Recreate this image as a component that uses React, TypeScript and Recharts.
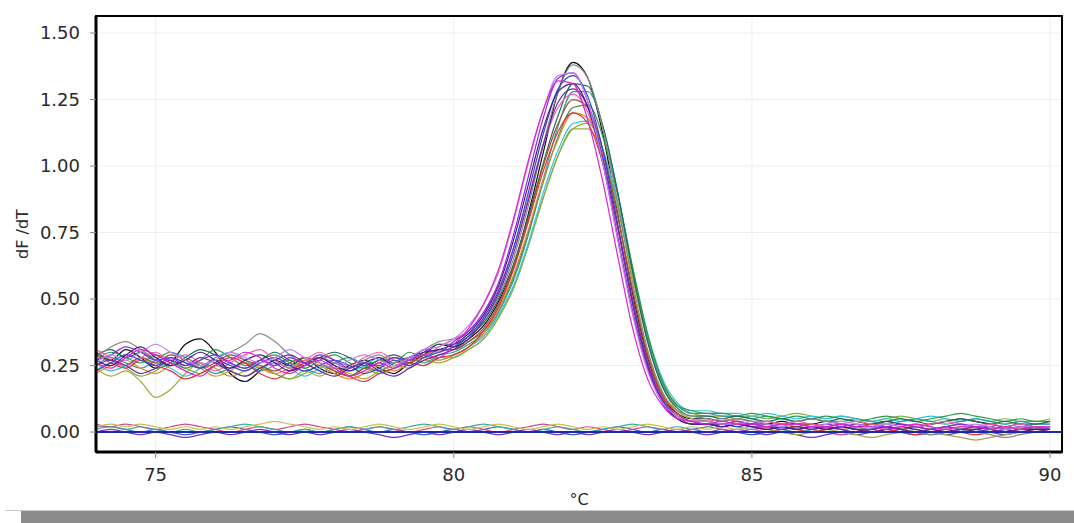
import { LineChart, Line, XAxis, YAxis, CartesianGrid, ReferenceLine, ReferenceArea } from 'recharts';

// temperature grid, 0.25 °C steps
const temps = [
    74, 74.25, 74.5, 74.75, 75, 75.25, 75.5, 75.75, 76, 76.25, 76.5, 76.75, 77, 77.25, 77.5, 77.75,
    78, 78.25, 78.5, 78.75, 79, 79.25, 79.5, 79.75, 80, 80.25, 80.5, 80.75, 81, 81.25, 81.5, 81.75,
    82, 82.25, 82.5, 82.75, 83, 83.25, 83.5, 83.75, 84, 84.25, 84.5, 84.75, 85, 85.25, 85.5, 85.75,
    86, 86.25, 86.5, 86.75, 87, 87.25, 87.5, 87.75, 88, 88.25, 88.5, 88.75, 89, 89.25, 89.5, 89.75, 90,
];

const xTicks = [75, 80, 85, 90];
const yTicks = [0, 0.25, 0.5, 0.75, 1, 1.25, 1.5];

// positive wells (melt peak ~82 °C)
const p1 = [
    0.30, 0.27, 0.31, 0.28, 0.24, 0.26, 0.33, 0.35, 0.30, 0.22, 0.19, 0.23, 0.27, 0.25, 0.28, 0.24, 0.22, 0.25, 0.27, 0.24, 0.22, 0.26, 0.29, 0.33,
    0.32, 0.35, 0.40, 0.49, 0.62, 0.82, 1.05, 1.28, 1.39, 1.33, 1.12, 0.82, 0.52, 0.28, 0.13, 0.07, 0.05,
    0.05, 0.04, 0.05, 0.04, 0.03, 0.04, 0.03, 0.03, 0.04, 0.03, 0.02, 0.03, 0.04, 0.03, 0.02, 0.03, 0.04, 0.05, 0.04, 0.03, 0.02, 0.03, 0.02, 0.02,
];
const p2 = [
    0.27, 0.29, 0.32, 0.30, 0.27, 0.28, 0.25, 0.27, 0.29, 0.26, 0.24, 0.27, 0.25, 0.28, 0.26, 0.29, 0.27, 0.24, 0.26, 0.25, 0.28, 0.27, 0.31, 0.30,
    0.34, 0.38, 0.45, 0.56, 0.74, 0.96, 1.18, 1.33, 1.35, 1.24, 1.02, 0.73, 0.45, 0.24, 0.11, 0.06, 0.04,
    0.04, 0.03, 0.04, 0.03, 0.03, 0.02, 0.03, 0.02, 0.03, 0.02, 0.03, 0.02, 0.02, 0.03, 0.02, 0.01, 0.02, 0.03, 0.02, 0.02, 0.01, 0.02, 0.02, 0.01,
];
const p3 = [
    0.26, 0.24, 0.28, 0.31, 0.29, 0.26, 0.23, 0.21, 0.25, 0.27, 0.30, 0.28, 0.24, 0.22, 0.25, 0.27, 0.24, 0.21, 0.23, 0.26, 0.24, 0.27, 0.29, 0.28,
    0.33, 0.39, 0.48, 0.61, 0.80, 1.02, 1.21, 1.32, 1.31, 1.17, 0.94, 0.66, 0.39, 0.20, 0.10, 0.05, 0.04,
    0.03, 0.04, 0.03, 0.03, 0.02, 0.03, 0.03, 0.02, 0.02, 0.03, 0.02, 0.02, 0.01, 0.02, 0.03, 0.02, 0.01, 0.02, 0.02, 0.01, 0.02, 0.01, 0.02, 0.02,
];
const p4 = [
    0.25, 0.28, 0.26, 0.24, 0.27, 0.30, 0.28, 0.25, 0.22, 0.24, 0.26, 0.23, 0.25, 0.27, 0.24, 0.22, 0.26, 0.28, 0.25, 0.23, 0.26, 0.28, 0.26, 0.29,
    0.30, 0.33, 0.37, 0.45, 0.57, 0.74, 0.95, 1.15, 1.28, 1.28, 1.15, 0.90, 0.61, 0.35, 0.18, 0.10, 0.07,
    0.07, 0.06, 0.06, 0.05, 0.06, 0.05, 0.04, 0.05, 0.04, 0.04, 0.05, 0.04, 0.03, 0.04, 0.05, 0.04, 0.03, 0.04, 0.05, 0.04, 0.03, 0.04, 0.03, 0.03,
];
const p5 = [
    0.24, 0.21, 0.23, 0.19, 0.13, 0.16, 0.22, 0.26, 0.24, 0.21, 0.23, 0.25, 0.22, 0.20, 0.23, 0.21, 0.24, 0.22, 0.20, 0.23, 0.25, 0.24, 0.27, 0.26,
    0.28, 0.31, 0.35, 0.43, 0.54, 0.70, 0.88, 1.04, 1.14, 1.14, 1.04, 0.84, 0.58, 0.34, 0.17, 0.08, 0.05,
    0.04, 0.03, 0.03, 0.02, 0.01, 0.00, -0.01, 0.00, 0.01, 0.00, -0.01, -0.02, -0.01, 0.00, 0.01, 0.00, -0.01, -0.02, -0.03, -0.02, -0.01, 0.00, 0.01, 0.02,
];
const p6 = [
    0.29, 0.26, 0.24, 0.27, 0.25, 0.23, 0.20, 0.22, 0.25, 0.28, 0.26, 0.22, 0.20, 0.23, 0.26, 0.28, 0.25, 0.21, 0.19, 0.22, 0.24, 0.26, 0.25, 0.28,
    0.29, 0.32, 0.38, 0.47, 0.61, 0.79, 0.98, 1.13, 1.20, 1.16, 1.01, 0.77, 0.50, 0.27, 0.13, 0.06, 0.03,
    0.03, 0.02, 0.03, 0.02, 0.01, 0.02, 0.01, 0.00, 0.01, 0.02, 0.01, 0.00, 0.01, 0.00, -0.01, 0.00, 0.01, 0.00, -0.01, 0.00, 0.01, 0.00, 0.01, 0.01,
];
const p7 = [
    0.27, 0.30, 0.28, 0.26, 0.29, 0.27, 0.24, 0.27, 0.31, 0.28, 0.25, 0.27, 0.29, 0.26, 0.24, 0.27, 0.29, 0.26, 0.24, 0.27, 0.26, 0.30, 0.28, 0.31,
    0.31, 0.34, 0.38, 0.46, 0.58, 0.75, 0.94, 1.11, 1.22, 1.23, 1.11, 0.89, 0.62, 0.37, 0.19, 0.10, 0.08,
    0.07, 0.07, 0.06, 0.07, 0.06, 0.05, 0.06, 0.05, 0.06, 0.05, 0.04, 0.05, 0.06, 0.05, 0.04, 0.05, 0.06, 0.07, 0.06, 0.05, 0.04, 0.05, 0.04, 0.04,
];
const p8 = [
    0.23, 0.26, 0.29, 0.27, 0.25, 0.28, 0.26, 0.24, 0.27, 0.25, 0.23, 0.26, 0.28, 0.25, 0.23, 0.25, 0.27, 0.25, 0.22, 0.24, 0.27, 0.25, 0.28, 0.30,
    0.32, 0.36, 0.43, 0.53, 0.69, 0.90, 1.12, 1.29, 1.34, 1.26, 1.06, 0.78, 0.49, 0.26, 0.12, 0.06, 0.04,
    0.03, 0.03, 0.02, 0.03, 0.02, 0.02, 0.01, 0.02, 0.01, 0.02, 0.01, 0.01, 0.02, 0.01, 0.00, 0.01, 0.02, 0.01, 0.01, 0.00, 0.01, 0.02, 0.01, 0.01,
];
const p9 = [
    0.31, 0.28, 0.25, 0.28, 0.30, 0.27, 0.29, 0.26, 0.23, 0.26, 0.29, 0.31, 0.27, 0.24, 0.27, 0.30, 0.27, 0.25, 0.28, 0.30, 0.27, 0.25, 0.28, 0.32,
    0.35, 0.38, 0.44, 0.54, 0.69, 0.88, 1.08, 1.22, 1.27, 1.20, 1.02, 0.76, 0.48, 0.26, 0.12, 0.06, 0.04,
    0.04, 0.05, 0.04, 0.03, 0.04, 0.03, 0.04, 0.03, 0.02, 0.03, 0.04, 0.03, 0.02, 0.03, 0.02, 0.03, 0.04, 0.03, 0.02, 0.03, 0.02, 0.03, 0.02, 0.02,
];
const p10 = [
    0.26, 0.23, 0.25, 0.28, 0.26, 0.24, 0.21, 0.24, 0.28, 0.30, 0.27, 0.24, 0.26, 0.24, 0.21, 0.24, 0.26, 0.23, 0.25, 0.28, 0.25, 0.27, 0.29, 0.27,
    0.29, 0.32, 0.36, 0.44, 0.55, 0.71, 0.90, 1.06, 1.16, 1.17, 1.06, 0.86, 0.61, 0.37, 0.20, 0.11, 0.08,
    0.08, 0.07, 0.07, 0.06, 0.07, 0.06, 0.05, 0.06, 0.05, 0.06, 0.05, 0.04, 0.05, 0.04, 0.05, 0.06, 0.05, 0.04, 0.05, 0.04, 0.03, 0.04, 0.03, 0.03,
];
const p11 = [
    0.28, 0.32, 0.34, 0.31, 0.28, 0.30, 0.27, 0.25, 0.28, 0.30, 0.33, 0.37, 0.34, 0.29, 0.26, 0.28, 0.26, 0.24, 0.27, 0.29, 0.26, 0.28, 0.31, 0.34,
    0.35, 0.37, 0.42, 0.51, 0.65, 0.85, 1.08, 1.28, 1.38, 1.33, 1.14, 0.86, 0.56, 0.31, 0.15, 0.08, 0.06,
    0.05, 0.04, 0.05, 0.04, 0.04, 0.03, 0.04, 0.05, 0.04, 0.03, 0.02, 0.01, 0.02, 0.01, 0.00, -0.01, 0.00, 0.01, 0.00, -0.01, -0.02, -0.01, 0.00, 0.01,
];
const p12 = [
    0.25, 0.27, 0.25, 0.22, 0.24, 0.27, 0.25, 0.28, 0.26, 0.23, 0.21, 0.24, 0.27, 0.29, 0.26, 0.23, 0.21, 0.24, 0.26, 0.23, 0.21, 0.24, 0.27, 0.29,
    0.31, 0.35, 0.42, 0.52, 0.67, 0.87, 1.08, 1.24, 1.29, 1.22, 1.03, 0.77, 0.48, 0.25, 0.11, 0.05, 0.03,
    0.03, 0.02, 0.03, 0.02, 0.02, 0.01, 0.02, 0.01, 0.02, 0.01, 0.00, 0.01, 0.02, 0.01, 0.00, 0.01, 0.00, 0.01, 0.02, 0.01, 0.00, 0.01, 0.01, 0.00,
];
const p13 = [
    0.22, 0.25, 0.27, 0.24, 0.22, 0.25, 0.27, 0.24, 0.21, 0.23, 0.26, 0.24, 0.22, 0.24, 0.27, 0.25, 0.22, 0.20, 0.22, 0.25, 0.23, 0.26, 0.28, 0.27,
    0.29, 0.32, 0.37, 0.46, 0.59, 0.76, 0.95, 1.10, 1.20, 1.18, 1.04, 0.81, 0.54, 0.30, 0.15, 0.07, 0.04,
    0.04, 0.03, 0.04, 0.03, 0.02, 0.03, 0.02, 0.03, 0.02, 0.01, 0.02, 0.03, 0.02, 0.01, 0.02, 0.01, 0.02, 0.01, 0.02, 0.01, 0.02, 0.01, 0.01, 0.02,
];
const p14 = [
    0.29, 0.31, 0.28, 0.30, 0.27, 0.25, 0.28, 0.31, 0.29, 0.26, 0.24, 0.27, 0.30, 0.27, 0.25, 0.28, 0.30, 0.28, 0.25, 0.27, 0.29, 0.27, 0.30, 0.33,
    0.33, 0.36, 0.41, 0.50, 0.63, 0.81, 1.01, 1.19, 1.31, 1.30, 1.15, 0.90, 0.60, 0.34, 0.17, 0.09, 0.06,
    0.06, 0.05, 0.06, 0.05, 0.04, 0.05, 0.04, 0.05, 0.04, 0.05, 0.04, 0.03, 0.04, 0.05, 0.04, 0.03, 0.04, 0.05, 0.04, 0.03, 0.04, 0.03, 0.03, 0.04,
];
const p15 = [
    0.27, 0.25, 0.29, 0.32, 0.28, 0.25, 0.27, 0.30, 0.27, 0.24, 0.27, 0.29, 0.26, 0.23, 0.25, 0.28, 0.25, 0.23, 0.26, 0.28, 0.25, 0.28, 0.30, 0.31,
    0.33, 0.37, 0.44, 0.55, 0.72, 0.93, 1.14, 1.28, 1.31, 1.22, 1.01, 0.73, 0.45, 0.24, 0.11, 0.05, 0.03,
    0.03, 0.02, 0.03, 0.02, 0.01, 0.02, 0.01, 0.02, 0.01, 0.02, 0.01, 0.00, 0.01, 0.02, 0.01, 0.00, 0.01, 0.00, 0.01, 0.02, 0.01, 0.00, 0.01, 0.01,
];
const p16 = [
    0.23, 0.26, 0.24, 0.21, 0.23, 0.26, 0.24, 0.22, 0.25, 0.23, 0.21, 0.24, 0.22, 0.20, 0.22, 0.25, 0.23, 0.21, 0.24, 0.22, 0.24, 0.26, 0.25, 0.28,
    0.28, 0.31, 0.35, 0.43, 0.54, 0.70, 0.88, 1.04, 1.14, 1.16, 1.06, 0.86, 0.60, 0.36, 0.19, 0.10, 0.07,
    0.06, 0.06, 0.05, 0.06, 0.05, 0.06, 0.07, 0.06, 0.05, 0.06, 0.05, 0.04, 0.05, 0.06, 0.05, 0.04, 0.05, 0.04, 0.05, 0.04, 0.05, 0.04, 0.04, 0.05,
];
const p17 = [
    0.30, 0.27, 0.25, 0.28, 0.26, 0.29, 0.27, 0.24, 0.26, 0.29, 0.27, 0.25, 0.23, 0.26, 0.28, 0.26, 0.23, 0.21, 0.24, 0.26, 0.28, 0.26, 0.29, 0.31,
    0.31, 0.34, 0.39, 0.48, 0.62, 0.80, 1.00, 1.16, 1.25, 1.22, 1.06, 0.81, 0.53, 0.29, 0.14, 0.07, 0.04,
    0.04, 0.03, 0.04, 0.03, 0.04, 0.03, 0.02, 0.03, 0.02, 0.03, 0.02, 0.03, 0.02, 0.01, 0.02, 0.01, 0.02, 0.03, 0.02, 0.01, 0.02, 0.01, 0.02, 0.02,
];
const p18 = [
    0.26, 0.29, 0.27, 0.30, 0.33, 0.30, 0.27, 0.25, 0.27, 0.30, 0.28, 0.26, 0.28, 0.31, 0.28, 0.26, 0.24, 0.27, 0.29, 0.27, 0.25, 0.28, 0.31, 0.32,
    0.35, 0.40, 0.48, 0.60, 0.79, 1.01, 1.21, 1.34, 1.35, 1.24, 1.01, 0.72, 0.44, 0.23, 0.11, 0.06, 0.04,
    0.04, 0.03, 0.03, 0.04, 0.03, 0.02, 0.03, 0.02, 0.03, 0.04, 0.03, 0.02, 0.03, 0.02, 0.03, 0.02, 0.01, 0.02, 0.03, 0.02, 0.01, 0.02, 0.02, 0.02,
];

// negative wells (flat near zero)
const n1 = [
    0.02, 0.02, 0.01, 0.00, 0.01, 0.00, -0.01, 0.00, 0.01, 0.02, 0.01, 0.00, -0.01, 0.00, 0.01, 0.00, 0.01, 0.02, 0.01, 0.00, 0.01, 0.00, -0.01, 0.00,
    0.01, 0.00, 0.01, 0.02, 0.01, 0.00, 0.01, 0.00, -0.01, 0.00, 0.01, 0.02, 0.01, 0.00, 0.01, 0.00, 0.01,
    0.00, 0.01, 0.00, -0.01, 0.00, 0.01, 0.00, 0.01, 0.02, 0.01, 0.00, 0.01, 0.00, 0.01, 0.00, -0.01, 0.00, 0.01, 0.00, 0.01, 0.00, 0.01, 0.00,
];
const n2 = [
    0.03, 0.02, 0.03, 0.02, 0.01, 0.02, 0.03, 0.02, 0.01, 0.00, 0.01, 0.02, 0.01, 0.02, 0.03, 0.02, 0.01, 0.00, 0.01, 0.02, 0.01, 0.00, 0.01, 0.02,
    0.01, 0.02, 0.01, 0.00, 0.01, 0.02, 0.03, 0.02, 0.01, 0.02, 0.01, 0.00, 0.01, 0.02, 0.01, 0.00, 0.01,
    0.02, 0.01, 0.00, 0.01, 0.00, 0.01, 0.02, 0.01, 0.00, -0.01, 0.00, 0.01, 0.02, 0.01, 0.00, 0.01, 0.00, 0.01, 0.02, 0.01, 0.00, 0.01, 0.01,
];
const n3 = [
    0.01, 0.02, 0.01, 0.02, 0.01, 0.00, 0.01, 0.00, 0.01, 0.02, 0.03, 0.02, 0.01, 0.00, 0.01, 0.00, 0.01, 0.02, 0.01, 0.02, 0.01, 0.02, 0.03, 0.02,
    0.01, 0.02, 0.03, 0.02, 0.01, 0.00, 0.01, 0.02, 0.01, 0.00, 0.01, 0.02, 0.03, 0.02, 0.01, 0.02, 0.01,
    0.02, 0.03, 0.02, 0.01, 0.02, 0.01, 0.00, 0.01, 0.02, 0.01, 0.02, 0.03, 0.02, 0.01, 0.02, 0.01, 0.02, 0.01, 0.00, 0.01, 0.02, 0.01, 0.02, 0.01,
];
const n4 = [
    0.00, 0.01, 0.00, -0.01, 0.00, -0.01, -0.02, -0.01, 0.00, -0.01, 0.00, 0.01, 0.00, -0.01, 0.00, -0.01, 0.00, 0.01, 0.00, -0.01, -0.02, -0.01, 0.00, -0.01,
    0.00, 0.01, 0.00, -0.01, 0.00, 0.01, 0.00, -0.01, 0.00, -0.01, 0.00, 0.01, 0.00, -0.01, 0.00, 0.01, 0.00,
    -0.01, 0.00, 0.01, 0.00, -0.01, 0.00, -0.01, -0.02, -0.01, 0.00, -0.01, 0.00, 0.01, 0.00, -0.01, 0.00, -0.01, 0.00, 0.01, 0.00, -0.01, 0.00, 0.00,
];
const n5 = [
    0.02, 0.03, 0.02, 0.03, 0.02, 0.01, 0.02, 0.01, 0.02, 0.01, 0.02, 0.03, 0.04, 0.03, 0.02, 0.01, 0.02, 0.01, 0.02, 0.03, 0.02, 0.01, 0.02, 0.03,
    0.02, 0.01, 0.02, 0.03, 0.02, 0.01, 0.02, 0.03, 0.02, 0.01, 0.02, 0.01, 0.02, 0.03, 0.02, 0.01, 0.02,
    0.01, 0.02, 0.01, 0.02, 0.01, 0.02, 0.03, 0.02, 0.01, 0.02, 0.01, 0.02, 0.01, 0.02, 0.03, 0.02, 0.01, 0.02, 0.01, 0.02, 0.01, 0.02, 0.01, 0.02,
];

const series = [
    { key: 'n1', values: n1, color: '#3a5ad0' },
    { key: 'n2', values: n2, color: '#d04890' },
    { key: 'n3', values: n3, color: '#40a8a0' },
    { key: 'n4', values: n4, color: '#7a30c0' },
    { key: 'n5', values: n5, color: '#c8c050' },
    { key: 'p1', values: p1, color: '#111111' },
    { key: 'p5', values: p5, color: '#a8a838' },
    { key: 'p16', values: p16, color: '#7cb342' },
    { key: 'p10', values: p10, color: '#38c0e0' },
    { key: 'p4', values: p4, color: '#2aa0a0' },
    { key: 'p7', values: p7, color: '#2e9a48' },
    { key: 'p14', values: p14, color: '#206a58' },
    { key: 'p13', values: p13, color: '#e08a30' },
    { key: 'p6', values: p6, color: '#e03040' },
    { key: 'p17', values: p17, color: '#a05030' },
    { key: 'p11', values: p11, color: '#8a8a8a' },
    { key: 'p9', values: p9, color: '#f060a8' },
    { key: 'p8', values: p8, color: '#3545d0' },
    { key: 'p12', values: p12, color: '#6a2aa8' },
    { key: 'p15', values: p15, color: '#4b1a8a' },
    { key: 'p2', values: p2, color: '#8a2be2' },
    { key: 'p18', values: p18, color: '#c080f0' },
    { key: 'p3', values: p3, color: '#e020d0' },
];

const data = temps.map((t, i) => {
    const row: Record<string, number> = { t };
    series.forEach((s) => {
        row[s.key] = s.values[i];
    });
    return row;
});

const tickStyle = { fill: '#2a2a2a', fontSize: 18, fontFamily: 'DejaVu Sans' };
const labelStyle = { fill: '#2a2a2a', fontSize: 16, fontFamily: 'DejaVu Sans' };

export default function App() {
    return (
        <div style={{ position: 'absolute', left: 0, top: 0, width: 1074, height: 523, background: '#fff' }}>
            <LineChart width={1074} height={508} data={data} margin={{ top: 16, right: 12, left: 0, bottom: 0 }}>
                <CartesianGrid stroke="#eeeeee" />
                <XAxis
                    dataKey="t"
                    type="number"
                    domain={[74, 90.2]}
                    ticks={xTicks}
                    allowDataOverflow
                    height={56}
                    axisLine={{ stroke: '#000', strokeWidth: 3 }}
                    tickLine={{ stroke: '#888' }}
                    tickSize={6}
                    tickMargin={10}
                    tick={tickStyle}
                    label={{ value: '°C', position: 'insideBottom', offset: 3, style: labelStyle }}
                />
                <YAxis
                    type="number"
                    domain={[-0.075, 1.564]}
                    ticks={yTicks}
                    allowDataOverflow
                    width={96}
                    axisLine={{ stroke: '#000', strokeWidth: 3 }}
                    tickLine={{ stroke: '#888' }}
                    tickSize={6}
                    tickMargin={10}
                    tick={tickStyle}
                    tickFormatter={(v: number) => v.toFixed(2)}
                    label={{ value: 'dF /dT', angle: -90, position: 'insideLeft', offset: 22, style: { ...labelStyle, textAnchor: 'middle' } }}
                />
                <ReferenceArea x1={74} x2={90.2} y1={-0.075} y2={1.564} fill="none" stroke="#000" strokeWidth={2} />
                {series.map((s) => (
                    <Line
                        key={s.key}
                        dataKey={s.key}
                        type="monotone"
                        stroke={s.color}
                        strokeWidth={1.2}
                        dot={false}
                        isAnimationActive={false}
                    />
                ))}
                <ReferenceLine y={0} stroke="#1a2aa8" strokeWidth={2} />
            </LineChart>
            <div style={{ position: 'absolute', left: 5, top: 510, width: 1069, height: 1, background: '#c8c8c8' }} />
            <div style={{ position: 'absolute', left: 21, top: 511, width: 1053, height: 12, background: '#8c8c8c' }} />
        </div>
    );
}
